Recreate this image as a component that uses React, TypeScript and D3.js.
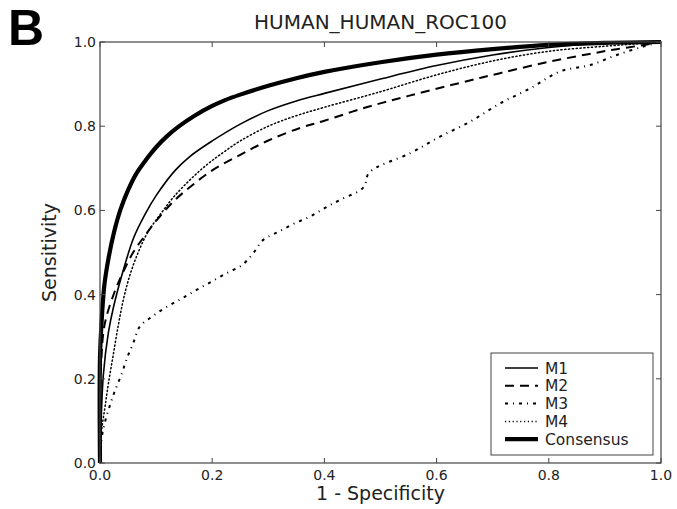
import * as d3 from "d3";

// ROC curves (x = 1 - specificity, y = sensitivity)
const m1X = [0, 0.002, 0.006, 0.015, 0.024, 0.042, 0.06, 0.08, 0.1, 0.134, 0.16, 0.2, 0.25, 0.3, 0.35, 0.4, 0.5, 0.6, 0.7, 0.8, 0.9, 1];
const m1Y = [0, 0.1, 0.21, 0.31, 0.37, 0.46, 0.535, 0.59, 0.635, 0.695, 0.728, 0.765, 0.805, 0.837, 0.86, 0.878, 0.912, 0.944, 0.969, 0.987, 0.997, 1];

const m2X = [0, 0.001, 0.006, 0.012, 0.027, 0.04, 0.059, 0.08, 0.1, 0.13, 0.16, 0.2, 0.25, 0.3, 0.357, 0.4, 0.475, 0.55, 0.642, 0.713, 0.8, 0.87, 0.921, 0.975, 1];
const m2Y = [0, 0.2, 0.31, 0.35, 0.41, 0.45, 0.5, 0.54, 0.575, 0.62, 0.655, 0.695, 0.732, 0.766, 0.796, 0.813, 0.845, 0.872, 0.903, 0.926, 0.953, 0.971, 0.983, 0.994, 1];

const m3X = [0, 0.003, 0.009, 0.018, 0.027, 0.039, 0.048, 0.059, 0.071, 0.092, 0.119, 0.146, 0.172, 0.199, 0.226, 0.253, 0.273, 0.291, 0.318, 0.345, 0.374, 0.401, 0.428, 0.47, 0.48, 0.553, 0.606, 0.66, 0.713, 0.767, 0.82, 0.873, 0.921, 0.968, 1];
const m3Y = [0, 0.059, 0.098, 0.138, 0.173, 0.213, 0.249, 0.284, 0.324, 0.347, 0.371, 0.391, 0.411, 0.431, 0.451, 0.47, 0.498, 0.53, 0.549, 0.568, 0.585, 0.606, 0.625, 0.655, 0.69, 0.736, 0.775, 0.811, 0.854, 0.89, 0.93, 0.945, 0.969, 0.989, 1];

const m4X = [0, 0.003, 0.009, 0.015, 0.024, 0.033, 0.042, 0.053, 0.068, 0.086, 0.11, 0.13, 0.16, 0.19, 0.22, 0.25, 0.3, 0.35, 0.4, 0.5, 0.6, 0.7, 0.8, 0.9, 0.95, 1];
const m4Y = [0, 0.078, 0.134, 0.189, 0.26, 0.33, 0.39, 0.445, 0.5, 0.55, 0.595, 0.63, 0.672, 0.708, 0.738, 0.765, 0.8, 0.825, 0.845, 0.882, 0.922, 0.955, 0.978, 0.99, 0.995, 1];

const consX = [0, 0, 0.004, 0.008, 0.015, 0.025, 0.036, 0.05, 0.065, 0.083, 0.1, 0.12, 0.14, 0.17, 0.2, 0.223, 0.25, 0.3, 0.35, 0.4, 0.5, 0.6, 0.7, 0.8, 0.9, 1];
const consY = [0, 0.25, 0.36, 0.425, 0.485, 0.548, 0.6, 0.648, 0.688, 0.722, 0.75, 0.777, 0.799, 0.826, 0.848, 0.862, 0.875, 0.896, 0.914, 0.929, 0.952, 0.97, 0.983, 0.993, 0.998, 1];

const seriesNames = ["M1", "M2", "M3", "M4", "Consensus"];
const tickValues = [0, 0.2, 0.4, 0.6, 0.8, 1.0];

const title = "HUMAN_HUMAN_ROC100";
const xLabel = "1 - Specificity";
const yLabel = "Sensitivity";

const W = 677;
const H = 509;
const left = 100;
const right = 661;
const top = 42;
const bottom = 463;

const styles = [
  { width: 1.6, dash: "" },
  { width: 2, dash: "9,6" },
  { width: 2, dash: "3,5,1,5" },
  { width: 1.5, dash: "1.2,2.6" },
  { width: 4.2, dash: "" },
];

export default function App() {
  const x = d3.scaleLinear().domain([0, 1]).range([left, right]);
  const y = d3.scaleLinear().domain([0, 1]).range([bottom, top]);

  const line = d3
    .line<[number, number]>()
    .x((d) => x(d[0]))
    .y((d) => y(d[1]))
    .curve(d3.curveCatmullRom.alpha(0.5));

  const series = [
    d3.zip(m1X, m1Y),
    d3.zip(m2X, m2Y),
    d3.zip(m3X, m3Y),
    d3.zip(m4X, m4Y),
    d3.zip(consX, consY),
  ] as [number, number][][];

  const font = "'DejaVu Sans', sans-serif";
  const axisColor = "#444";
  const tickLen = 5;

  // legend box
  const lgX = 491;
  const lgY = 353;
  const lgW = 162;
  const lgH = 102;

  return (
    <svg width={W} height={H} style={{ display: "block", position: "absolute", left: 0, top: 0 }}>
      <rect width={W} height={H} fill="#fff" />
      <text x={8} y={45} fontFamily="'Liberation Sans', Arial, sans-serif" fontWeight="bold" fontSize={50}>
        B
      </text>
      <text x={(left + right) / 2} y={29} textAnchor="middle" fontFamily={font} fontSize={20} fill="#222">
        {title}
      </text>

      <defs>
        <clipPath id="plotclip">
          <rect x={left - 3} y={top - 3} width={right - left + 6} height={bottom - top + 6} />
        </clipPath>
      </defs>
      <g clipPath="url(#plotclip)">
        {series.map((s, i) => (
          <path
            key={seriesNames[i]}
            d={line(s) ?? ""}
            fill="none"
            stroke="#000"
            strokeWidth={styles[i].width}
            strokeDasharray={styles[i].dash || undefined}
            strokeLinecap={i === 3 ? "round" : "butt"}
          />
        ))}
      </g>

      <rect x={left} y={top} width={right - left} height={bottom - top} fill="none" stroke={axisColor} strokeWidth={1.2} />

      {tickValues.map((t) => (
        <g key={"t" + t}>
          <line x1={x(t)} x2={x(t)} y1={bottom} y2={bottom - tickLen} stroke={axisColor} />
          <line x1={x(t)} x2={x(t)} y1={top} y2={top + tickLen} stroke={axisColor} />
          <line x1={left} x2={left + tickLen} y1={y(t)} y2={y(t)} stroke={axisColor} />
          <line x1={right} x2={right - tickLen} y1={y(t)} y2={y(t)} stroke={axisColor} />
          <text x={x(t)} y={bottom + 17} textAnchor="middle" fontFamily={font} fontSize={14} fill="#222">
            {t.toFixed(1)}
          </text>
          <text x={left - 4} y={y(t) + 5} textAnchor="end" fontFamily={font} fontSize={14} fill="#222">
            {t.toFixed(1)}
          </text>
        </g>
      ))}

      <text x={(left + right) / 2} y={500} textAnchor="middle" fontFamily={font} fontSize={19} fill="#222">
        {xLabel}
      </text>
      <text
        transform={`translate(56,${(top + bottom) / 2}) rotate(-90)`}
        textAnchor="middle"
        fontFamily={font}
        fontSize={19}
        fill="#222"
      >
        {yLabel}
      </text>

      <rect x={lgX} y={lgY} width={lgW} height={lgH} fill="#fff" stroke={axisColor} strokeWidth={1} />
      {seriesNames.map((name, i) => {
        const ly = lgY + 15 + i * 17.8;
        return (
          <g key={name}>
            <line
              x1={lgX + 14}
              x2={lgX + 47}
              y1={ly}
              y2={ly}
              stroke="#000"
              strokeWidth={styles[i].width}
              strokeDasharray={styles[i].dash || undefined}
            />
            <text x={lgX + 54} y={ly + 5.5} fontFamily={font} fontSize={15.5} fill="#222">
              {name}
            </text>
          </g>
        );
      })}
    </svg>
  );
}
